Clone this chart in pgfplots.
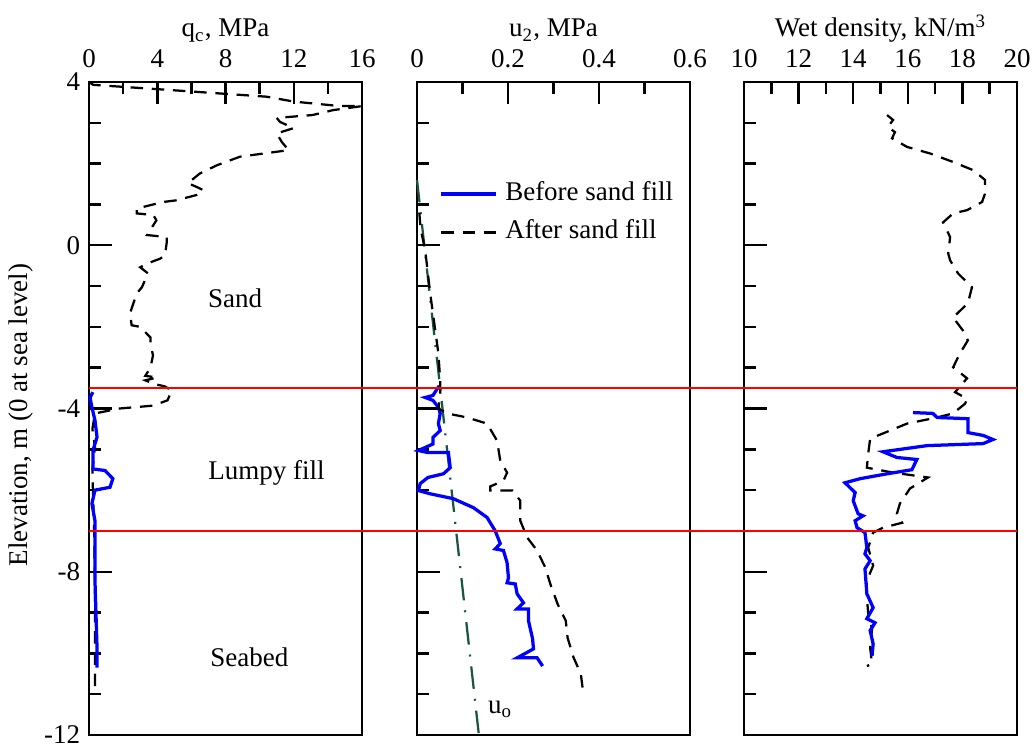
\documentclass[border=0pt]{standalone}
\usepackage{pgfplots}
\pgfplotsset{compat=1.18}
\usepackage{fontspec}
\setmainfont{Liberation Serif}
\definecolor{uogreen}{RGB}{25,85,65}
\definecolor{myblue}{RGB}{0,0,255}
\definecolor{myred}{RGB}{255,0,0}
\newcommand{\fs}{\fontsize{10.8}{13}\selectfont}
\pgfplotsset{
  every axis/.append style={
    scale only axis, width=109.2pt, height=261.2pt,
    ymin=-12, ymax=4,
    ytick={-12,-8,-4,0,4},
    minor ytick={-11,-10,-9,-7,-6,-5,-3,-2,-1,1,2,3},
    xtick pos=upper, ytick pos=left, xticklabel pos=upper,
    tick align=inside,
    major tick length=9pt, minor tick length=4.8pt,
    axis line style={black, line width=1pt},
    every tick/.style={black, line width=1pt},
    tick label style={font=\fs},
    label style={font=\fs},
    xticklabel style={yshift=2.2pt},
    xlabel style={at={(axis description cs:0.5,1)}, anchor=base, yshift=18pt},
    ylabel style={at={(axis description cs:-0.249,0.49)}, anchor=center},
    clip=false,
  },
  dashblack/.style={black, line width=0.9pt, dash pattern=on 5pt off 3.5pt},
  solidblue/.style={myblue, line width=1.3pt},
}
\begin{document}
\begin{tikzpicture}
\useasboundingbox (-35.6pt,-5.6pt) rectangle (378pt,294pt);
% Panel 1
\begin{axis}[name=ax1, at={(0,0)}, anchor=south west,
  xmin=0, xmax=16,
  xtick={0,4,8,12,16}, xticklabels={0,4,8,12,16},
  minor xtick={2,6,10,14},
  yticklabels={-12,-8,-4,0,4},
  xlabel={q\textsubscript{c}, MPa},
  ylabel={Elevation, m (0 at sea level)},
]
\addplot[dashblack] table {
0 4.0
0.25 3.93
4.16 3.82
7.3 3.73
10.4 3.64
12.0 3.52
14.7 3.41
16.0 3.41
14.3 3.31
13.1 3.19
11.0 3.12
11.2 3.02
12.0 2.87
11.0 2.74
11.3 2.53
11.7 2.33
8.85 2.17
7.5 1.96
6.5 1.76
5.8 1.52
6.3 1.43
6.7 1.35
6.3 1.23
5.1 1.1
4.35 1.06
2.8 0.9
2.8 0.78
3.77 0.74
3.95 0.61
3.4 0.25
4.55 0.2
4.55 0.05
4.45 -0.25
4.16 -0.33
3.4 -0.45
3.0 -0.54
3.46 -0.69
3.1 -1.03
2.8 -1.18
2.4 -1.67
2.5 -1.96
3.0 -2.0
3.6 -2.26
3.6 -2.4
3.75 -2.7
3.6 -3.0
3.3 -3.2
4.0 -3.24
3.3 -3.31
3.75 -3.39
4.45 -3.46
4.85 -3.56
4.6 -3.8
3.75 -3.93
1.8 -4.0
0.35 -4.12
0.2 -4.5
0.35 -4.95
0.2 -5.5
0.23 -6.0
0.3 -7.0
0.35 -8.2
0.35 -10.26
0.35 -11.0
};
\addplot[solidblue] table {
0.23 -3.6
0.06 -3.73
0.17 -3.97
0.35 -4.29
0.47 -4.7
0.23 -5.03
0.23 -5.48
0.94 -5.52
1.4 -5.72
1.23 -5.93
0.35 -6.0
0.17 -6.33
0.35 -6.75
0.35 -8.22
0.47 -9.86
0.47 -10.35
};
\node[font=\fs] at (axis cs:8.56,-1.3) {Sand};
\node[font=\fs] at (axis cs:10.4,-5.57) {Lumpy fill};
\node[font=\fs] at (axis cs:9.4,-10.1) {Seabed};
\coordinate (r1) at (axis cs:0,-3.5);
\coordinate (r2) at (axis cs:0,-7);
\end{axis}
% Panel 2
\begin{axis}[name=ax2, at={(131.2pt,0)}, anchor=south west,
  xmin=0, xmax=0.6,
  xtick={0,0.2,0.4,0.6}, xticklabels={0,0.2,0.4,0.6},
  minor xtick={0.1,0.3,0.5},
  yticklabels={},
  xlabel={u\textsubscript{2}, MPa},
  legend style={draw=none, fill=none, inner sep=0pt, outer sep=0pt,
    at={(axis cs:0.05,1.73)}, anchor=north west,
    font=\fs,
    nodes={inner sep=2.9pt, text height=7.4pt, text depth=2.2pt}},
  legend cell align=left,
  legend image code/.code={\draw[#1] (0pt,0pt) -- (22pt,0pt);},
]
\addplot[uogreen, line width=0.9pt, dash pattern=on 9pt off 4pt on 0.8pt off 4pt, forget plot] table {
0 1.6
0.136 -12
};
\addplot[solidblue] table {
0.049 -3.44
0.035 -3.68
0.018 -3.73
0.035 -3.8
0.047 -3.97
0.051 -4.12
0.047 -4.37
0.051 -4.54
0.035 -4.71
0.035 -4.87
0.003 -5.03
0.024 -5.08
0.069 -5.08
0.073 -5.45
0.058 -5.6
0.024 -5.69
0.007 -5.84
0.003 -6.01
0.029 -6.09
0.08 -6.21
0.124 -6.43
0.154 -6.67
0.172 -7.0
0.183 -7.31
0.172 -7.44
0.19 -7.48
0.198 -7.78
0.201 -8.15
0.198 -8.27
0.216 -8.3
0.22 -8.54
0.234 -8.76
0.22 -8.91
0.245 -8.91
0.245 -9.2
0.254 -9.64
0.256 -9.89
0.22 -10.11
0.264 -10.11
0.276 -10.31
};
\addlegendentry{Before sand fill}
\addplot[dashblack] table {
0.005 0.8
0.008 0.4
0.018 -0.12
0.029 -1.18
0.035 -1.67
0.047 -2.65
0.051 -3.31
0.051 -3.63
0.047 -4.0
0.066 -4.12
0.11 -4.22
0.154 -4.37
0.176 -4.79
0.183 -5.28
0.198 -5.57
0.19 -5.77
0.161 -5.91
0.161 -6.01
0.21 -6.01
0.227 -6.26
0.227 -6.75
0.242 -7.16
0.264 -7.48
0.282 -7.9
0.293 -8.3
0.309 -8.79
0.327 -9.2
0.331 -9.62
0.344 -10.1
0.36 -10.5
0.364 -10.85
0.353 -10.97
};
\addlegendentry{After sand fill}
\node[font=\fs] at (axis cs:0.183,-11.38) {u\textsubscript{o}};
\end{axis}
% Panel 3
\begin{axis}[name=ax3, at={(262pt,0)}, anchor=south west,
  xmin=10, xmax=20,
  xtick={10,12,14,16,18,20}, xticklabels={10,12,14,16,18,20},
  minor xtick={11,13,15,17,19},
  yticklabels={},
  xlabel={Wet density, kN/m\textsuperscript{3}},
]
\addplot[dashblack] table {
15.24 3.19
15.46 3.07
15.27 2.9
15.53 2.77
15.42 2.62
15.97 2.41
16.81 2.25
17.66 2.04
18.39 1.84
18.83 1.6
18.83 1.27
18.72 1.06
18.17 0.86
17.66 0.78
17.29 0.56
17.55 0.2
17.48 -0.2
17.55 -0.37
17.84 -0.69
18.35 -1.03
18.2 -1.42
17.66 -1.77
18.02 -2.09
18.2 -2.33
17.91 -2.65
17.66 -2.99
18.17 -3.26
17.73 -3.6
18.17 -3.76
18.1 -3.88
17.66 -4.12
17.07 -4.22
15.97 -4.37
14.62 -4.74
14.55 -5.1
14.5 -5.45
15.46 -5.57
16.74 -5.69
16.08 -5.96
15.71 -6.33
15.6 -6.58
15.79 -6.8
15.09 -6.92
14.73 -7.04
14.55 -7.41
14.73 -7.85
14.5 -8.22
14.5 -8.63
14.55 -9.03
14.69 -9.4
14.62 -9.86
14.69 -10.26
14.5 -10.31
};
\addplot[solidblue] table {
16.19 -4.1
16.92 -4.12
17.07 -4.22
18.2 -4.25
18.2 -4.59
18.76 -4.66
19.12 -4.76
18.76 -4.86
16.7 -4.91
15.09 -5.06
15.6 -5.2
16.33 -5.25
16.15 -5.5
15.24 -5.6
14.25 -5.72
13.7 -5.82
14.07 -6.06
14.0 -6.26
14.18 -6.58
14.36 -6.63
14.07 -6.75
14.14 -6.92
14.43 -7.04
14.5 -7.41
14.43 -7.56
14.62 -7.73
14.43 -7.93
14.5 -8.54
14.73 -8.88
14.5 -9.15
14.8 -9.25
14.62 -9.44
14.73 -9.77
14.69 -10.06
};
\end{axis}
\draw[myred, line width=0.8pt] (r1) -- (r1 -| ax3.east);
\draw[myred, line width=0.8pt] (r2) -- (r2 -| ax3.east);
\end{tikzpicture}
\end{document}
